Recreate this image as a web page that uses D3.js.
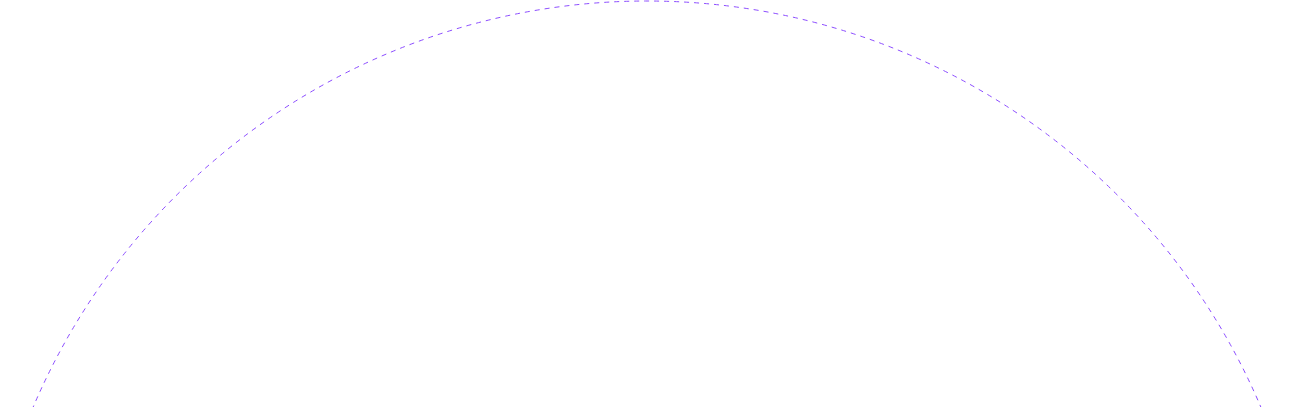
<!DOCTYPE html>
<html>
<head>
<meta charset="utf-8">
<script src="https://cdn.jsdelivr.net/npm/d3@7"></script>
<style>
  html, body { margin: 0; padding: 0; background: #fff; overflow: hidden; }
</style>
</head>
<body>
<div id="chart"></div>
<script>
const width = 1295;
const height = 407;

// one guide ring at the outer value of the radial scale
const ringValues = [1];
const radiusDomain = [0, 1];

const cx = 647;
const cy = 668;

const r = d3.scaleLinear()
  .domain(radiusDomain)
  .range([0, 667]);

const svg = d3.select("#chart")
  .append("svg")
  .attr("width", width)
  .attr("height", height);

const g = svg.append("g")
  .attr("transform", `translate(${cx},${cy})`);

g.selectAll("circle.ring")
  .data(ringValues)
  .join("circle")
  .attr("class", "ring")
  .attr("r", d => r(d))
  .attr("fill", "none")
  .attr("stroke", "#8c4dff")
  .attr("stroke-width", 1)
  .attr("stroke-dasharray", "5,5");
</script>
</body>
</html>
